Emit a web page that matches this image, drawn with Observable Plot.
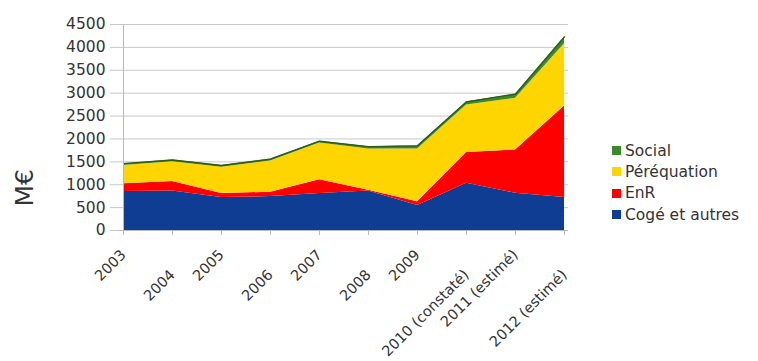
<!DOCTYPE html>
<html>
<head>
<meta charset="utf-8">
<script src="https://cdn.jsdelivr.net/npm/d3@7"></script>
<script src="https://cdn.jsdelivr.net/npm/@observablehq/plot@0.6"></script>
<style>
  html, body { margin: 0; padding: 0; background: #fff; }
  #wrap { position: relative; width: 758px; height: 361px; font-family: "DejaVu Sans", sans-serif; }
  #legend { position: absolute; left: 612px; top: 140px; font-size: 15.5px; color: #333; }
  .item { display: flex; align-items: center; height: 21.3px; white-space: nowrap; }
  .sw { width: 9px; height: 9px; margin-right: 4px; box-sizing: border-box; }
</style>
</head>
<body>
<div id="wrap"><div id="legend"></div></div>
<script>
const years = ["2003", "2004", "2005", "2006", "2007", "2008", "2009", "2010 (constaté)", "2011 (estimé)", "2012 (estimé)"];
const seriesNames = ["Cogé et autres", "EnR", "Péréquation", "Social"];
const cogeValues = [850, 865, 720, 740, 810, 865, 545, 1030, 815, 720];
const enrValues = [170, 205, 90, 95, 300, 15, 85, 675, 945, 2000];
const perequationValues = [400, 430, 570, 685, 800, 900, 1150, 1035, 1130, 1360];
const socialValues = [40, 40, 40, 40, 40, 50, 70, 70, 90, 150];
const yTicks = [0, 500, 1000, 1500, 2000, 2500, 3000, 3500, 4000, 4500];
const colors = ["#0f3d94", "#ff0000", "#ffd500", "#3a8a2a"];
const legendOrder = ["Social", "Péréquation", "EnR", "Cogé et autres"];

const seriesValues = [cogeValues, enrValues, perequationValues, socialValues];
const data = [];
seriesNames.forEach((s, i) => years.forEach((y, j) => data.push({year: y, series: s, value: seriesValues[i][j]})));
const totals = years.map((y, j) => ({year: y, total: seriesValues.reduce((a, v) => a + v[j], 0)}));

const evenYears = years.filter((d, i) => i % 2 === 0);
const oddYears = years.filter((d, i) => i % 2 === 1);

const chart = Plot.plot({
  width: 758,
  height: 361,
  marginLeft: 119,
  marginRight: 190,
  marginTop: 24,
  marginBottom: 131,
  style: {fontFamily: "DejaVu Sans, sans-serif", fontSize: "15.5px", color: "#333", background: "#fff"},
  x: {type: "point", domain: years, padding: 0, label: null},
  y: {domain: [0, 4500], ticks: yTicks, label: null},
  color: {domain: seriesNames, range: colors},
  marks: [
    Plot.gridY(yTicks, {stroke: "#c8c8c8", strokeOpacity: 1}),
    Plot.areaY(data, {x: "year", y: "value", z: "series", fill: "series", fillOpacity: 1}),
    Plot.lineY(totals, {x: "year", y: "total", stroke: "#2f5a1c", strokeWidth: 1.3}),
    Plot.axisY(yTicks, {tickSize: 9, tickPadding: 5, stroke: "#c8c8c8", fill: "#333", tickFormat: d => String(d), label: null}),
    Plot.ruleX([years[0]], {stroke: "#b8b8b8"}),
    Plot.ruleY([0], {stroke: "#b8b8b8"}),
    Plot.axisX(years, {tickSize: 5, stroke: "#b8b8b8", tickFormat: () => "", label: null}),
    Plot.axisX(evenYears, {tickSize: 0, tickRotate: -45, dx: 0, dy: 10, fontSize: 14.5, fill: "#333", label: null}),
    Plot.axisX(oddYears, {tickSize: 0, tickRotate: -45, dx: 0, dy: 30, fontSize: 14.5, fill: "#333", label: null}),
    Plot.text(["M€"], {frameAnchor: "left", dx: -95, dy: 79, rotate: -90, fontSize: 25, fill: "#333"})
  ]
});
const wrap = document.getElementById("wrap");
wrap.insertBefore(chart, wrap.firstChild);

const legend = document.getElementById("legend");
legendOrder.forEach(name => {
  const item = document.createElement("div");
  item.className = "item";
  const sw = document.createElement("span");
  sw.className = "sw";
  sw.style.background = colors[seriesNames.indexOf(name)];
  item.appendChild(sw);
  const t = document.createElement("span");
  t.textContent = name;
  item.appendChild(t);
  legend.appendChild(item);
});
</script>
</body>
</html>
